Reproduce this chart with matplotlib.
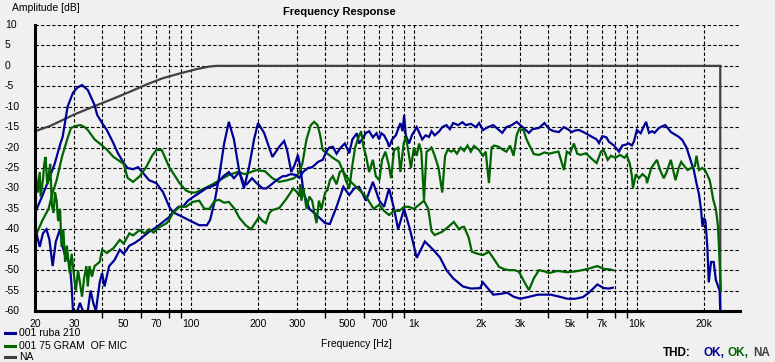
import matplotlib
matplotlib.use('Agg')
import matplotlib.pyplot as plt
from matplotlib.lines import Line2D

# ---------------- data ----------------
xtick_vals = [20, 30, 50, 70, 100, 200, 300, 500, 700, 1000, 2000, 3000, 5000, 7000, 10000, 20000]
xtick_labels = ['20', '30', '50', '70', '100', '200', '300', '500', '700', '1k', '2k', '3k', '5k', '7k', '10k', '20k']
xminor_vals = [40, 60, 80, 90, 400, 600, 800, 900, 4000, 6000, 8000, 9000]
ytick_vals = [10, 5, 0, -5, -10, -15, -20, -25, -30, -35, -40, -45, -50, -55, -60]

legend_labels = ['001 ruba 210', '001 75 GRAM  OF MIC', 'NA']
thd_labels = ['OK,', 'OK,', 'NA']

gray_na = [(20, -16), (23.4, -14.7), (26.5, -13.3), (30, -11.9), (38, -9.6), (45, -8), (53, -6.4),
           (63, -4.6), (75, -3), (90, -1.8), (106, -0.8), (120, -0.2), (130, 0), (1000, 0),
           (23650, 0), (23660, -60)]

blue_a = [(20, -36), (21.5, -32), (23, -28), (24.5, -24), (26, -19), (26.6, -17.4), (28, -10), (29.6, -6.6),
          (31, -5.3), (32.5, -4.7), (34.5, -5.9), (37, -9.6), (38, -12), (40, -14), (42, -15.7), (45, -19),
          (47, -21.3), (50, -23.8), (52, -25), (55, -25.3), (58, -24.8), (61, -26.2), (65, -28), (70, -28.7),
          (75, -30.9), (80, -34.5), (83, -35.8), (92, -37), (100, -38), (109, -39), (118, -39), (122, -37.7),
          (128, -33), (134, -27), (141, -19), (148, -13.7), (156, -18), (165, -26), (173, -30), (182, -25),
          (192, -18), (200, -14), (213, -16.4), (232, -22.3), (249, -19.8), (262, -18.4), (270, -20.6),
          (282, -26), (293, -24), (302, -21.8), (310, -25), (320, -31), (340, -35), (366, -36.5), (400, -38.5),
          (420, -38.7), (450, -34.5), (483, -29.6), (513, -31.6), (540, -30), (568, -29.6), (610, -33),
          (655, -28.4), (700, -33), (735, -34.5), (774, -30), (815, -35), (850, -40), (904, -35), (960, -40),
          (1030, -47), (1120, -43), (1220, -45), (1310, -46.9), (1400, -50), (1500, -52), (1660, -54),
          (1800, -54.5), (1980, -54.4), (2040, -53), (2150, -54.5), (2270, -56), (2450, -55.8), (2620, -55.5),
          (2800, -56.5), (3000, -57), (3300, -56.5), (3600, -56), (4100, -56), (4500, -56.5), (4870, -57),
          (5300, -57), (5730, -56.6), (6100, -55.5), (6650, -53.5), (7100, -54.4), (7500, -54.5), (7800, -54.3)]

blue_b = [(20, -39.5), (21, -44.3), (21.7, -41), (22.5, -40), (23.2, -42.5), (24, -49), (24.8, -43), (25.9, -40),
          (26.6, -44.3), (27.5, -47), (28.6, -48), (29.2, -54), (29.6, -60), (31, -60), (31.8, -58), (32.8, -60),
          (34.5, -60), (35.5, -55), (36.5, -58), (37.5, -60), (39, -53), (40, -50.7), (41, -54), (43, -49),
          (45.5, -47.5), (48, -45), (50, -46), (53, -44), (55.8, -43.4), (59, -42.5), (62, -41.5), (65, -40.6),
          (70, -39.5), (75, -38.2), (80, -37), (83, -35.8), (88, -34.5), (92, -34.5), (97, -33), (103, -32),
          (110, -31), (117, -30), (124, -29.5), (130, -29), (140, -27), (148, -26), (156, -27.5), (165, -26),
          (172, -28.5), (178, -29), (188, -27.5), (197, -28.7), (210, -30), (218, -30), (230, -29), (242, -28),
          (258, -27), (266, -27), (280, -26.5), (296, -26.7), (306, -27.4), (318, -26), (335, -25), (350, -24.8),
          (372, -23.5), (390, -23), (405, -21), (417, -20), (433, -19.8), (450, -21.5), (470, -20), (490, -19),
          (500, -20), (513, -21.4), (530, -18), (540, -17.4), (555, -16.5), (568, -19), (585, -18), (610, -16.4),
          (630, -16), (655, -17.5), (680, -16.5), (698, -18), (715, -16.5), (735, -17), (760, -18.5), (774, -19.8),
          (800, -18), (830, -17), (870, -14), (890, -16), (904, -12), (920, -17), (951, -19), (980, -17),
          (1030, -15), (1060, -16.5), (1090, -18), (1130, -17), (1169, -17.4), (1200, -16), (1240, -17),
          (1300, -16), (1340, -15), (1400, -14.5), (1450, -15.5), (1500, -14), (1580, -14.5), (1650, -13.8),
          (1710, -14.5), (1800, -14.2), (1900, -15), (1960, -14), (2040, -15.7), (2150, -15), (2270, -14.5),
          (2350, -15.2), (2490, -16.4), (2600, -15), (2750, -14.5), (2890, -13.7), (3000, -14.5), (3100, -15.2),
          (3280, -16.4), (3400, -15.5), (3640, -15.2), (3850, -14), (4050, -15.5), (4250, -16), (4470, -16.2),
          (4700, -15), (4900, -15.5), (5100, -16.2), (5300, -15.8), (5500, -15.7), (5800, -16.3), (6300, -17.4),
          (6600, -18), (6760, -18.9), (7000, -17.2), (7300, -17.5), (7500, -18.6), (7900, -19.5), (8310, -21),
          (8600, -19.5), (8900, -19.3), (9210, -19), (9500, -19.5), (9700, -18.5), (10000, -15.7), (10400, -16.5),
          (10700, -15), (11000, -13.7), (11330, -16.4), (11700, -16), (12000, -16.4), (12560, -15.2),
          (13000, -14.8), (13400, -14.5), (13800, -15.3), (14200, -16.2), (15440, -17.4), (16000, -18.2),
          (16700, -20), (17500, -23.5), (18000, -25.5), (18500, -28.7), (19000, -31.5), (19400, -35.3),
          (19700, -39.4), (20000, -37.2), (20300, -38), (20700, -44.3), (21000, -53), (21200, -51), (21500, -48),
          (22100, -48), (22600, -52.4), (23000, -53.6), (23500, -55), (23650, -60)]

green_a = [(20, -42), (21.5, -38), (23, -35), (24, -31), (25, -28), (26.5, -22), (28, -17.7), (29, -15.2),
           (30.5, -14.7), (32, -14.5), (33.4, -15), (34.5, -15.7), (37, -18), (39, -19), (42, -20.5), (45, -22.3),
           (50, -24), (52, -27.4), (55, -28.4), (59, -27), (63, -24.8), (67, -22), (70, -20.6), (74, -20.6),
           (80, -24.8), (89, -28.7), (95, -30.5), (100, -31), (105, -31), (115, -30), (125, -29), (134, -28),
           (148, -26.7), (162, -26), (175, -26.5), (197, -25.5), (215, -25.8), (232, -27.5), (249, -28.4),
           (270, -28), (290, -27.5), (303, -26.5), (316, -24), (330, -18), (345, -14.5), (357, -13.7), (370, -14.5),
           (380, -17), (390, -20.6), (410, -21.5), (433, -22.5), (462, -23.5), (483, -26), (513, -28), (560, -30),
           (610, -32), (660, -35), (698, -34), (735, -35.5), (774, -36.5), (815, -35.5), (860, -35.5),
           (904, -34.5), (951, -34.5), (1000, -35), (1055, -34), (1110, -33), (1160, -35), (1200, -40.5),
           (1240, -41.4), (1290, -41), (1340, -40.6), (1420, -39.5), (1510, -38.2), (1594, -40), (1640, -39.5),
           (1680, -39.4), (1760, -42), (1820, -45.5), (1930, -46), (2040, -46.3), (2170, -45.5), (2300, -47.5),
           (2410, -49.2), (2550, -49.8), (2670, -50), (2830, -50), (2960, -50.4), (3100, -52.5), (3280, -54.9),
           (3450, -52), (3640, -50), (3850, -50.3), (4040, -50.7), (4400, -50.2), (4870, -50.5), (5300, -50.3),
           (5700, -50), (6200, -49.5), (6650, -49), (7100, -49.7), (7500, -49.8), (7800, -50)]

green_b = [(20, -23.8), (20.3, -28), (20.6, -31), (21, -26), (21.2, -32), (21.7, -28), (22, -24), (22.3, -22.3),
           (22.7, -29), (23, -27), (23.4, -24), (23.8, -34), (24.2, -36), (24.6, -31), (25, -33), (25.4, -38),
           (25.9, -35), (26.3, -44.3), (26.8, -40), (27.3, -48), (27.8, -44), (28.6, -50.7), (29.2, -46),
           (30, -52), (30.5, -55), (31.2, -50), (31.8, -53), (32.5, -56.5), (33.2, -52), (34, -49), (34.5, -54),
           (35.1, -49), (36, -51.6), (37, -49), (39, -48), (40, -45), (42, -45.8), (45, -44.6), (48, -42.6),
           (50, -43.5), (53, -41), (55, -41.5), (59, -40.2), (62, -41), (65, -40), (68, -40.8), (72, -39.5),
           (75, -39), (78, -38.5), (80, -37.7), (83, -36), (89, -34.5), (95, -34.5), (102, -33.3), (109, -33),
           (115, -35), (121, -35), (128, -33), (134, -32.8), (141, -33.5), (148, -33.3), (157, -35), (165, -37.2),
           (176, -39), (186, -40), (194, -38.5), (202, -37), (210, -38), (217, -38.5), (225, -36), (232, -35.3),
           (249, -34.8), (266, -32.8), (280, -31), (288, -30), (300, -31), (306, -32), (310, -29), (313, -33),
           (320, -30), (330, -35), (340, -32), (350, -33), (358, -36), (366, -38.5), (375, -33), (385, -35),
           (400, -31), (410, -30.4), (420, -28), (433, -27), (450, -29), (465, -26), (480, -25.5), (495, -28),
           (513, -30), (530, -24.3), (545, -20), (560, -18), (580, -16), (595, -20), (610, -22), (630, -26),
           (655, -23), (675, -27), (700, -28), (720, -23), (745, -21), (770, -24), (790, -27.5), (815, -20.6),
           (850, -20), (870, -26), (900, -19), (920, -17.4), (945, -21), (970, -25), (1000, -20), (1030, -22),
           (1055, -19), (1080, -21), (1110, -32.8), (1140, -21), (1169, -20.6), (1200, -20), (1240, -22),
           (1290, -25), (1340, -31), (1380, -22), (1420, -20.5), (1470, -21), (1514, -20.6), (1560, -21.5),
           (1620, -20), (1680, -20.8), (1740, -19.5), (1800, -21), (1860, -19.6), (1960, -20.6), (2040, -22),
           (2100, -21), (2170, -28.7), (2230, -20), (2290, -19.5), (2400, -19.8), (2500, -20.5), (2600, -21),
           (2700, -19.5), (2800, -22), (2890, -17), (2960, -15.5), (3100, -15.7), (3200, -18), (3300, -19.5),
           (3450, -21.6), (3640, -21.8), (3850, -21.2), (4050, -21.5), (4250, -21.2), (4450, -21), (4710, -25.5),
           (4850, -21), (5000, -21.5), (5220, -19), (5400, -21.5), (5600, -21.8), (5900, -21.4), (6200, -22.5),
           (6600, -23.8), (6900, -21), (7100, -20.6), (7400, -23), (7650, -22), (8000, -22.5), (8400, -21.8),
           (8800, -22.5), (9000, -21.8), (9300, -24), (9500, -27), (9600, -30), (9900, -26.5), (10200, -27.5),
           (10600, -26.5), (11000, -27.3), (11100, -28.7), (11600, -25), (12300, -23), (12700, -25.5),
           (13200, -27.5), (13600, -26), (14200, -23), (14900, -28), (15400, -25), (15800, -23.5), (16300, -24.5),
           (16900, -25.5), (17500, -25), (18200, -24.5), (18500, -22), (19000, -25.5), (19600, -25),
           (20200, -25.5), (20700, -26.7), (21200, -28), (21500, -29.6), (22000, -32.8), (22600, -35),
           (22900, -37.5), (23100, -39.4), (23300, -43.4), (23500, -48), (23800, -55)]

# ---------------- style ----------------
BG = '#f0f0f0'
BLUE = '#000096'
GREEN = '#006400'
GRAY = '#404040'
FONT = 'Liberation Sans'

W, H = 775, 362
fig = plt.figure(figsize=(W / 100, H / 100), dpi=100, facecolor=BG)
ax = fig.add_axes([35 / W, 1 - 311 / H, 705 / W, 286 / H])
ax.set_facecolor(BG)
ax.set_xscale('log')
ax.set_xlim(20, 29000)
ax.set_ylim(-60, 10)


def fp(x, y):
    return x / W, 1 - y / H


series = [(gray_na, GRAY), (blue_a, BLUE), (green_a, GREEN), (blue_b, BLUE), (green_b, GREEN)]
for data, col in series:
    f, d = zip(*data)
    ax.plot(f, d, color=col, lw=1.6, solid_joinstyle='miter', zorder=3)

ax.set_xticks(xtick_vals)
ax.set_xticklabels(xtick_labels, fontfamily=FONT, fontsize=7.5)
ax.set_xticks(xminor_vals, minor=True)
ax.xaxis.set_minor_formatter(plt.NullFormatter())
ax.tick_params(axis='x', which='major', length=0, pad=6)
ax.tick_params(axis='x', which='minor', length=5, width=1, direction='out', color='black')
ax.set_yticks(ytick_vals)
ax.set_yticklabels([])
ax.tick_params(axis='y', length=0)

grid_kw = dict(color='black', linewidth=0.8, linestyle=(0, (3, 2)))
ax.grid(True, which='major', axis='both', **grid_kw)
ax.grid(True, which='minor', axis='x', **grid_kw)
ax.set_axisbelow(True)

for s in ['top', 'right']:
    ax.spines[s].set_visible(False)
for s in ['left', 'bottom']:
    ax.spines[s].set_linewidth(2.2)
    ax.spines[s].set_color('black')
    ax.spines[s].set_zorder(4)

# y tick labels (left aligned at x=5px)
import matplotlib.transforms as mtransforms
trans = mtransforms.blended_transform_factory(fig.transFigure, ax.transData)
for v in ytick_vals:
    fig.text(5 / W, v, str(v), transform=trans, ha='left', va='center',
             fontfamily=FONT, fontsize=7.5)

# titles
fig.text(*fp(339, 12), 'Frequency Response', ha='center', va='center',
         fontfamily=FONT, fontsize=8, fontweight='bold')
fig.text(*fp(12, 8), 'Amplitude [dB]', ha='left', va='center', fontfamily=FONT, fontsize=7.5)
fig.text(*fp(356, 344), 'Frequency [Hz]', ha='center', va='center', fontfamily=FONT, fontsize=7.5)

# legend
leg_cols = [BLUE, GREEN, GRAY]
leg_y = [333, 346, 357]
for lab, col, yy in zip(legend_labels, leg_cols, leg_y):
    x0, y0 = fp(5, yy)
    x1, _ = fp(15, yy)
    fig.add_artist(Line2D([x0, x1], [y0, y0], color=col, lw=2.2, transform=fig.transFigure))
    fig.text(*fp(19, yy), lab, ha='left', va='center', fontfamily=FONT, fontsize=7.5)

# THD
fig.text(*fp(663, 353), 'THD:', ha='left', va='center', fontfamily=FONT, fontsize=8.5,
         fontweight='bold', color='black')
for lab, col, xx in zip(thd_labels, leg_cols, [703, 728, 753]):
    fig.text(*fp(xx, 353), lab, ha='left', va='center', fontfamily=FONT, fontsize=8.5,
             fontweight='bold', color=col)

fig.savefig('out.png', dpi=100, facecolor=BG)
